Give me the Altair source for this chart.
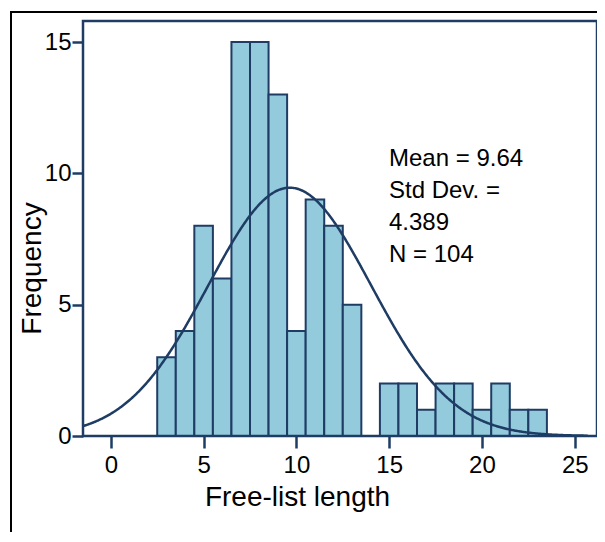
import altair as alt
import pandas as pd

# Histogram data (bin centres, counts)
lengths = [3, 4, 5, 6, 7, 8, 9, 10, 11, 12, 13, 14, 15, 16, 17, 18, 19, 20, 21, 22, 23]
counts = [3, 4, 8, 6, 15, 15, 13, 4, 9, 8, 5, 0, 2, 2, 1, 2, 2, 1, 2, 1, 1]

# Reported statistics
MEAN = 9.64
SD = 4.389
N = 104
stats_lines = ["Mean = 9.64", "Std Dev. =", "4.389", "N = 104"]

x_ticks = [0, 5, 10, 15, 20, 25]
y_ticks = [0, 5, 10, 15]

NAVY = "#1E3C64"
FILL = "#93CBDD"
FONT = "Liberation Sans"
W, H = 514, 415

df = pd.DataFrame({"length": lengths, "count": counts})
df = df[df["count"] > 0]

x_scale = alt.Scale(domain=[-1.5, 26.2], nice=False, zero=False)
y_scale = alt.Scale(domain=[0, 15.8], nice=False)

x_axis = alt.Axis(values=x_ticks, title="Free-list length", grid=False, domain=False,
                  tickColor=NAVY, tickWidth=2.5, tickSize=12, labelPadding=5,
                  labelFontSize=24, titleFontSize=28, titlePadding=6,
                  titleX=214, titleAlign="center",
                  labelColor="black", titleColor="black", titleFontWeight="normal",
                  labelFont=FONT, titleFont=FONT)
y_axis = alt.Axis(values=y_ticks, title="Frequency", grid=False, domain=False,
                  tickColor=NAVY, tickWidth=2.5, tickSize=11, labelPadding=1,
                  labelFontSize=24, titleFontSize=28,
                  titleX=-51, titleY=247, titleAlign="center", titleBaseline="middle",
                  titleAngle=270,
                  labelColor="black", titleColor="black", titleFontWeight="normal",
                  labelFont=FONT, titleFont=FONT)

bars = alt.Chart(df).transform_calculate(
    x0="datum.length - 0.5", x1="datum.length + 0.5"
).mark_rect(fill=FILL, stroke=NAVY, strokeWidth=2).encode(
    x=alt.X("x0:Q", scale=x_scale, axis=x_axis),
    x2="x1:Q",
    y=alt.Y("count:Q", scale=y_scale, axis=y_axis),
    y2=alt.datum(0),
)

curve = alt.Chart(alt.sequence(-1.5, 25.75, 0.05, as_="x")).transform_calculate(
    y=f"{N} * densityNormal(datum.x, {MEAN}, {SD})"
).mark_line(color=NAVY, strokeWidth=2.5).encode(
    x=alt.X("x:Q", scale=x_scale),
    y=alt.Y("y:Q", scale=y_scale),
)

note = alt.Chart(pd.DataFrame({"a": [0]})).mark_text(
    text=stats_lines, align="left", baseline="alphabetic", fontSize=24,
    lineHeight=32, font=FONT, color="black"
).encode(x=alt.value(306), y=alt.value(145))

outer = alt.Chart(pd.DataFrame({"a": [0]})).mark_rect(
    fill=None, stroke="black", strokeWidth=2
).encode(x=alt.value(-72), x2=alt.value(800), y=alt.value(-9), y2=alt.value(800))

frame = alt.Chart(pd.DataFrame({"a": [0]})).mark_rect(
    fill=None, stroke=NAVY, strokeWidth=2.5
).encode(x=alt.value(0), x2=alt.value(W), y=alt.value(0), y2=alt.value(H))

chart = alt.layer(outer, bars, curve, frame, note).properties(
    width=W, height=H,
    autosize=alt.AutoSizeParams(type="none"),
    padding={"left": 75, "top": 13, "right": 0, "bottom": 96},
).configure_view(stroke=None).configure(background="white")

chart.save("out.html", embed_options={"renderer": "svg", "actions": False})
